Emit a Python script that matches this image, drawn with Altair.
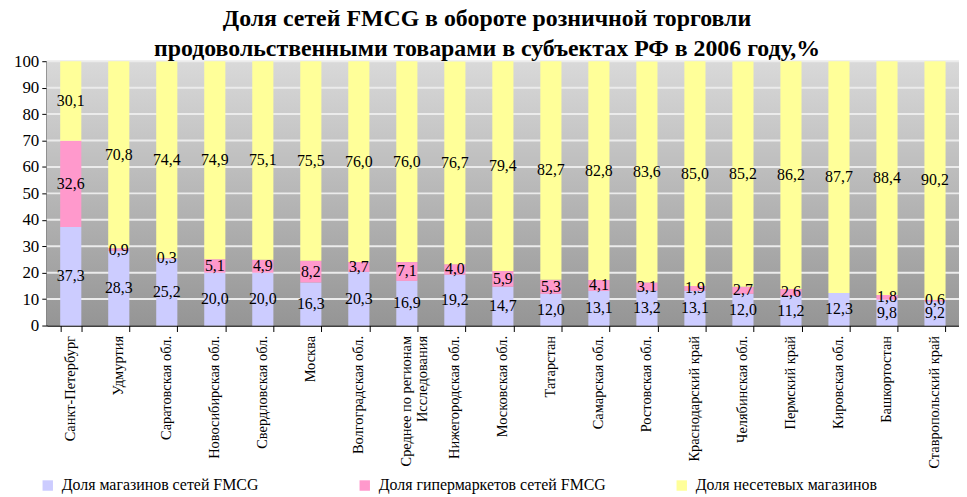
import altair as alt
import pandas as pd

regions = [
    "Санкт-Петербург", "Удмуртия", "Саратовская обл.", "Новосибирская обл.",
    "Свердловская обл.", "Москва", "Волгоградская обл.",
    "Среднее по регионам\nИсследования", "Нижегородская обл.", "Московская обл.",
    "Татарстан", "Самарская обл.", "Ростовская обл.", "Краснодарский край",
    "Челябинская обл.", "Пермский край", "Кировская обл.", "Башкортостан",
    "Ставропольский край",
]
chain_share = [37.3, 28.3, 25.2, 20.0, 20.0, 16.3, 20.3, 16.9, 19.2, 14.7,
               12.0, 13.1, 13.2, 13.1, 12.0, 11.2, 12.3, 9.8, 9.2]
hyper_share = [32.6, 0.9, 0.3, 5.1, 4.9, 8.2, 3.7, 7.1, 4.0, 5.9,
               5.3, 4.1, 3.1, 1.9, 2.7, 2.6, None, 1.8, 0.6]
other_share = [30.1, 70.8, 74.4, 74.9, 75.1, 75.5, 76.0, 76.0, 76.7, 79.4,
               82.7, 82.8, 83.6, 85.0, 85.2, 86.2, 87.7, 88.4, 90.2]
series_names = ["Доля магазинов сетей FMCG", "Доля гипермаркетов сетей FMCG",
                "Доля несетевых магазинов"]
series_colors = ["#CCCCFF", "#FF99CC", "#FFFF99"]
grid_values = [10, 20, 30, 40, 50, 60, 70, 80, 90, 100]
y_ticks = [0, 10, 20, 30, 40, 50, 60, 70, 80, 90, 100]

rows = []
for i, r in enumerate(regions):
    for k, vals in enumerate([chain_share, hyper_share, other_share]):
        v = vals[i]
        if v is None:
            continue
        rows.append({"region": r, "series": series_names[k], "order": k, "value": v})
df = pd.DataFrame(rows)

FONT = "Liberation Serif"

y_scale = alt.Scale(domain=[0, 100], nice=False)
y_axis = alt.Axis(title=None, values=y_ticks, grid=False, labelOverlap=False,
                  labelFont=FONT, labelFontSize=17, labelColor="black",
                  domainColor="black", domainWidth=1.5, tickColor="black",
                  tickSize=5, labelPadding=3)
x_axis = alt.Axis(
    title=None, labelAngle=-90, tickBand="extent",
    labelExpr="split(datum.label, '\\n')",
    labelFont=FONT, labelFontSize=14.5, labelColor="black",
    domainColor="black", domainWidth=1.5, tickColor="black", tickSize=6,
    labelPadding=4, labelLimit=200, labelLineHeight=16,
)
x_scale = alt.Scale(paddingInner=0.56, paddingOuter=0.28)

bg = alt.Chart(pd.DataFrame({"a": [0]})).mark_rect(
    fill=alt.LinearGradient(
        gradient="linear",
        stops=[alt.GradientStop(color="#d9d9d9", offset=0),
               alt.GradientStop(color="#959595", offset=1)],
        x1=0, x2=0, y1=0, y2=1,
    )
).encode(x=alt.value(0), x2=alt.value("width"), y=alt.value(0), y2=alt.value("height"))

grid = alt.Chart(pd.DataFrame({"g": grid_values})).mark_rule(
    color="#ebebeb", strokeWidth=2
).encode(y=alt.Y("g:Q", scale=y_scale, axis=y_axis))

bars = alt.Chart(df).mark_bar().encode(
    x=alt.X("region:N", sort=regions, scale=x_scale, axis=x_axis),
    y=alt.Y("value:Q", stack="zero", scale=y_scale, axis=y_axis),
    color=alt.Color("series:N", scale=alt.Scale(domain=series_names, range=series_colors),
                    legend=alt.Legend(
                        title=None, orient="none", legendX=-7, legendY=419,
                        direction="horizontal", columns=3, gridAlign="all",
                        columnPadding=68, symbolType="square", symbolSize=110,
                        symbolStrokeWidth=0, labelFont=FONT, labelFontSize=16,
                        labelColor="black", labelLimit=300, labelOffset=6)),
    order=alt.Order("order:Q", sort="ascending"),
)

text = alt.Chart(df).transform_stack(
    stack="value", groupby=["region"], as_=["y0", "y1"],
    sort=[alt.SortField("order", "ascending")],
).transform_calculate(
    mid="(datum.y0 + datum.y1) / 2",
    lab="replace(format(datum.value, '.1f'), '.', ',')",
).mark_text(font=FONT, fontSize=16, color="black", baseline="middle").encode(
    x=alt.X("region:N", sort=regions, scale=x_scale, axis=x_axis),
    y=alt.Y("mid:Q", scale=y_scale, axis=y_axis),
    text="lab:N",
)

chart = alt.layer(bg, grid, bars, text).properties(
    width=918, height=266,
    autosize=alt.AutoSizeParams(type="none"),
    padding={"left": 39, "top": 52, "right": 0, "bottom": 171},
    title=alt.TitleParams(
        text=["Доля сетей FMCG в обороте розничной торговли",
              "продовольственными товарами в субъектах РФ в 2006 году,%"],
        font=FONT, fontSize=24, fontWeight="bold", color="black",
        lineHeight=30, anchor="middle", dx=-16, offset=-9,
    ),
).configure_view(stroke=None)

chart.save("out.html", embed_options={"renderer": "svg", "actions": False})
